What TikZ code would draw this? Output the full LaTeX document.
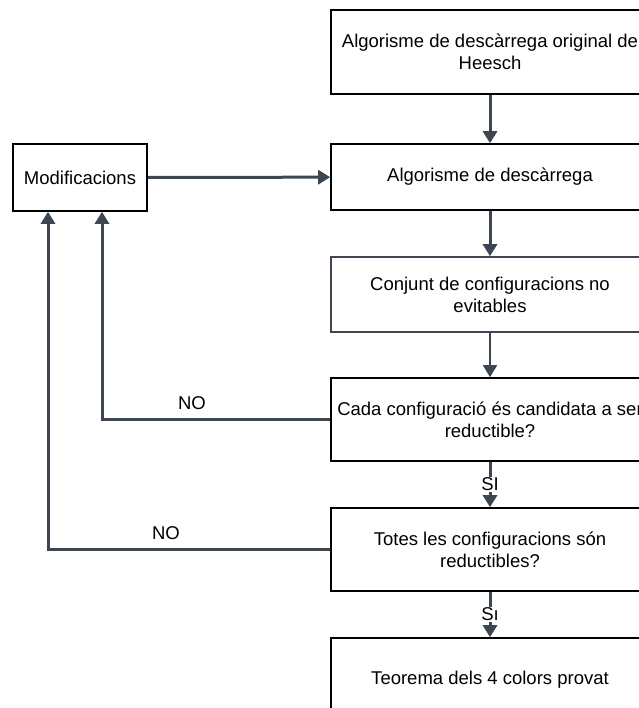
\documentclass[tikz,border=0pt]{standalone}
\usepackage{fontspec}
\setmainfont{Liberation Sans}
\usetikzlibrary{arrows.meta}
\definecolor{slate}{HTML}{3D4752}
\begin{document}
\begin{tikzpicture}[x=1pt,y=-1pt,
  every node/.style={font=\fontsize{18.5}{22}\selectfont},
  box/.style={draw=black,line width=1.6pt,minimum width=318pt,align=center,inner sep=0pt},
  conn/.style={draw=slate,line width=3pt,-{Triangle[width=14pt,length=12pt]}},
  thinconn/.style={draw=slate,line width=1.8pt,-{Triangle[width=14pt,length=12pt]}},
  lbl/.style={fill=white,inner sep=1pt}]
\useasboundingbox (0,0) rectangle (638,708);
\node[box,minimum height=84pt] (b1) at (490,52) {Algorisme de descàrrega original de\\Heesch};
\node[box,minimum height=66pt] (b2) at (490,177) {Algorisme de descàrrega};
\node[box,draw=slate,minimum height=75pt] (b3) at (490,294.5) {Conjunt de configuracions no\\evitables};
\node[box,minimum height=83pt] (b4) at (490,419.5) {Cada configuració és candidata a ser\\reductible?};
\node[box,minimum height=83pt] (b5) at (490,549.5) {Totes les configuracions són\\reductibles?};
\node[box,minimum height=84pt] (b6) at (490,680) {Teorema dels 4 colors provat};
\node[box,minimum width=134pt,minimum height=67pt] (mod) at (80,177.5) {Modificacions};
\coordinate (c1) at (102,419.5);
\coordinate (c2) at (48,549.5);
\draw[conn] (b1) -- (b2);
\draw[conn] (b2) -- (b3);
\draw[thinconn] (b3) -- (b4);
\draw[conn] (b4) -- node[lbl] (si1) {SI} (b5);
\draw[conn] (b5) -- node[lbl] (si2) {Sı} (b6);
\draw[conn] (mod) -- (b2);
\draw[conn] (b4.west) -- (c1) -- (mod.south -| c1);
\draw[conn] (b5.west) -- (c2) -- (mod.south -| c2);
\node (no1) at (192,403) {NO};
\node (no2) at (166,533) {NO};
\end{tikzpicture}
\end{document}
